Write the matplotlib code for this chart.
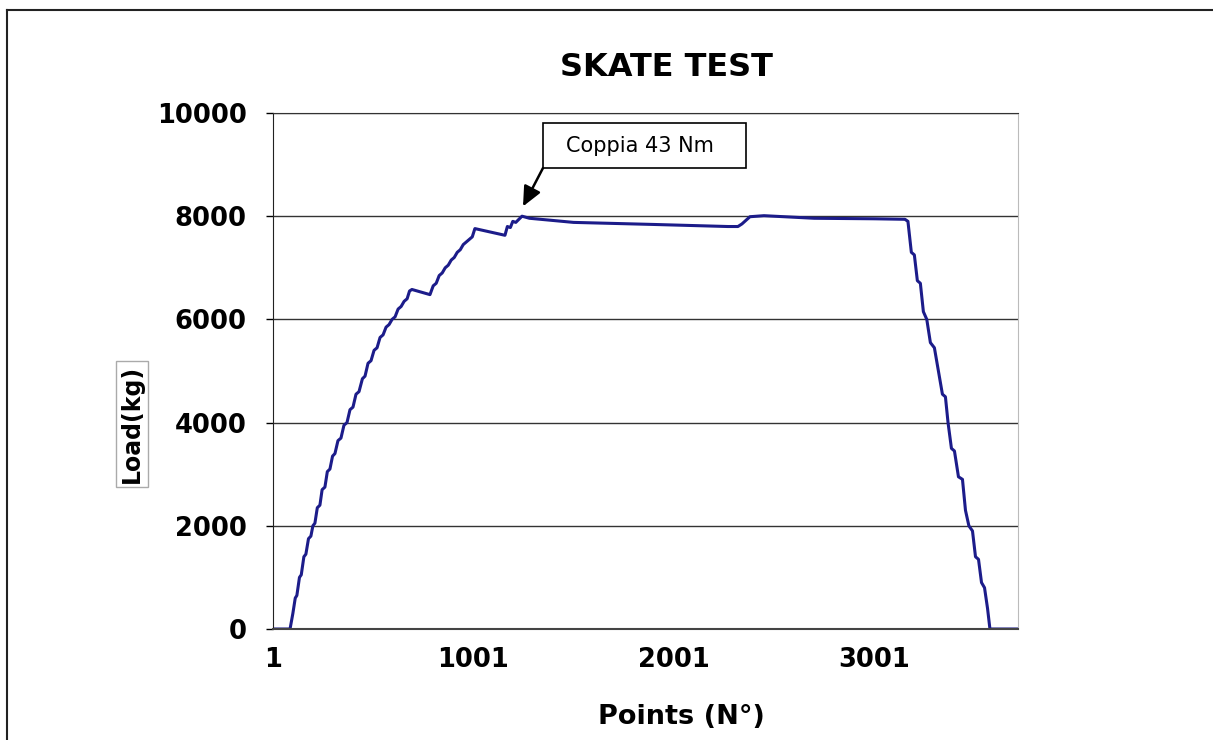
import numpy as np
import matplotlib
matplotlib.use("Agg")
from matplotlib import pyplot as plt
from matplotlib.patches import Rectangle

# data (point number, load in kg)
points = [1, 86, 100, 112, 120, 133, 142, 155, 165, 178, 190, 200, 210, 222, 235,
          246, 260, 272, 285, 298, 310, 325, 340, 355, 370, 385, 400, 415, 430,
          447, 460, 475, 490, 505, 520, 535, 550, 565, 580, 595, 610, 625, 640,
          655, 670, 682, 694, 784, 800, 815, 830, 845, 860, 875, 890, 905, 920,
          935, 950, 965, 980, 995, 1008, 1158, 1170, 1185, 1197, 1212, 1243,
          1280, 1500, 1900, 2270, 2320, 2340, 2380, 2450, 2700, 3000, 3153,
          3168, 3185, 3200, 3215, 3230, 3245, 3262, 3280, 3300, 3320, 3340,
          3355, 3368, 3385, 3400, 3420, 3440, 3455, 3472, 3490, 3505, 3520,
          3535, 3550, 3565, 3577, 3717]
load = [0, 0, 300, 600, 650, 1000, 1050, 1400, 1450, 1750, 1800, 2000, 2050,
        2350, 2400, 2700, 2750, 3050, 3100, 3350, 3400, 3650, 3700, 3950,
        4000, 4250, 4300, 4550, 4600, 4850, 4900, 5150, 5200, 5400, 5450,
        5650, 5700, 5850, 5900, 6000, 6050, 6200, 6250, 6350, 6400, 6550,
        6580, 6480, 6650, 6700, 6850, 6900, 7000, 7050, 7150, 7200, 7300,
        7350, 7450, 7500, 7550, 7600, 7760, 7630, 7800, 7780, 7900, 7880,
        8000, 7960, 7880, 7840, 7800, 7800, 7850, 7990, 8010, 7960, 7950,
        7940, 7900, 7300, 7250, 6750, 6700, 6150, 6000, 5550, 5450, 5000,
        4550, 4500, 4000, 3500, 3450, 2950, 2900, 2300, 2000, 1900, 1400,
        1350, 900, 800, 400, 0, 0]

xticks = [1, 1001, 2001, 3001]
yticks = [0, 2000, 4000, 6000, 8000, 10000]

fig = plt.figure(figsize=(12.13, 7.40), dpi=100)
ax = fig.add_axes([273/1213, 1-629/740, (1018-273)/1213, (629-113)/740])

ax.plot(points, load, color='#1c1c8a', lw=2.2)

ax.set_xlim(1, 3717)
ax.set_ylim(0, 10000)
ax.set_xticks(xticks)
ax.set_yticks(yticks)
ax.set_xticklabels([str(t) for t in xticks])
for lbl in ax.get_xticklabels() + ax.get_yticklabels():
    lbl.set_fontweight('bold')
    lbl.set_fontsize(18.5)
ax.tick_params(axis='x', length=0, pad=13)
ax.tick_params(axis='y', length=5, width=1, pad=14)
ax.grid(axis='y', color='#333333', lw=1)
ax.set_axisbelow(True)

ax.spines['left'].set_color('#222222')
ax.spines['bottom'].set_color('#444444')
ax.spines['bottom'].set_linewidth(1.5)
ax.spines['top'].set_color('#333333')
ax.spines['right'].set_color('#bbbbbb')

fig.text(666/1213, 1-68/740, 'SKATE TEST', ha='center', va='center',
         fontsize=23, fontweight='bold')
fig.text(681/1213, 1-717/740, 'Points (N°)', ha='center', va='center',
         fontsize=19.5, fontweight='bold')
fig.text(132/1213, 1-424/740, 'Load(kg)', ha='center', va='center',
         rotation=90, fontsize=17, fontweight='bold',
         bbox=dict(boxstyle='square,pad=0.15', fc='white', ec='#aaaaaa', lw=1))

# annotation box with arrow
ax.annotate('', xy=(1248, 8190), xycoords='data',
            xytext=(543/1213, 1-168/740), textcoords='figure fraction',
            arrowprops=dict(arrowstyle='-|>,head_length=1.2,head_width=0.55',
                            color='black', lw=1.8, shrinkA=0, shrinkB=0))
fig.patches.append(Rectangle((543/1213, 1-168/740), (746-543)/1213, 45/740,
                             transform=fig.transFigure, fc='white', ec='black',
                             lw=1.2, zorder=5))
fig.text(640/1213, 1-146/740, 'Coppia 43 Nm', ha='center', va='center',
         fontsize=15, zorder=6)

# outer chart border
fig.add_artist(plt.Line2D([7/1213, 7/1213], [0, 1-10/740], color='#222222',
                          lw=1.5, transform=fig.transFigure))
fig.add_artist(plt.Line2D([7/1213, 1], [1-10/740, 1-10/740], color='#222222',
                          lw=1.5, transform=fig.transFigure))

fig.savefig('out.png', dpi=100)
